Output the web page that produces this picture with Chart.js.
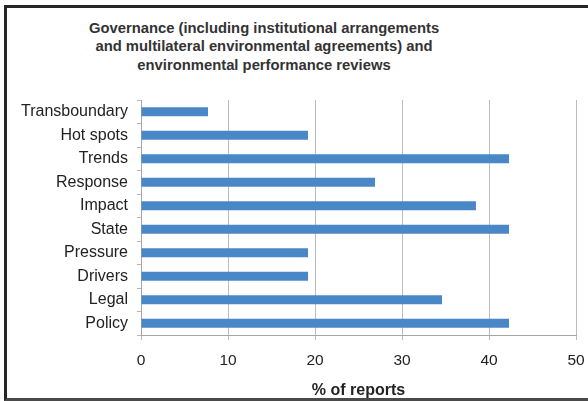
<!DOCTYPE html>
<html>
<head>
<meta charset="utf-8">
<script src="https://cdn.jsdelivr.net/npm/chart.js@4/dist/chart.umd.min.js"></script>
<style>
  html, body { margin: 0; padding: 0; background: #fff; overflow: hidden; }
  #frame {
    position: absolute; left: 4px; top: 5px; width: 620px; height: 390px;
    border-left: 3px solid #262626; border-top: 3px solid #262626; border-bottom: 3px solid #4a4a4a;
    background: #fff;
  }
  #title {
    position: absolute; left: 14px; top: 19px; width: 500px; text-align: center;
    font: bold 14.8px "Liberation Sans", Arial, sans-serif; line-height: 18.3px; color: #333;
  }
  #wrap { position: absolute; left: 0; top: 0; width: 588px; height: 401px; }
</style>
</head>
<body>
<div id="frame"></div>
<div id="title">Governance (including institutional arrangements<br>and multilateral environmental agreements) and<br>environmental performance reviews</div>
<div id="wrap"><canvas id="myChart"></canvas></div>
<script>
const categories = [
  'Transboundary',
  'Hot spots',
  'Trends',
  'Response',
  'Impact',
  'State',
  'Pressure',
  'Drivers',
  'Legal',
  'Policy'
];

const reportShare = [7.7, 19.2, 42.3, 26.9, 38.5, 42.3, 19.2, 19.2, 34.6, 42.3];

const xTicks = [0, 10, 20, 30, 40, 50];

const family = '"Liberation Sans", Arial, sans-serif';

const data = {
  labels: categories,
  datasets: [{
    label: '% of reports',
    backgroundColor: '#4a87c7',
    data: reportShare,
    categoryPercentage: 1,
    barPercentage: 0.38
  }]
};

const config = {
  type: 'bar',
  data: data,
  options: {
    indexAxis: 'y',
    responsive: false,
    animation: false,
    layout: { padding: { top: 100, right: 12, left: 0, bottom: 0 } },
    plugins: {
      legend: { display: false },
      tooltip: { enabled: false }
    },
    scales: {
      x: {
        min: xTicks[0],
        max: xTicks[xTicks.length - 1],
        afterBuildTicks: (axis) => { axis.ticks = xTicks.map(v => ({ value: v })); },
        afterFit: (axis) => {
          axis.height = 66;
          // let the "50" label hang past the plot edge instead of shrinking it
          axis.paddingLeft = 0;
          axis.paddingRight = 0;
        },
        grid: { color: '#bdbdbd', tickLength: 5 },
        border: { color: '#a6a6a6' },
        ticks: { font: { family: family, size: 15.5 }, color: '#222', padding: 11 },
        title: {
          display: true,
          text: '% of reports',
          font: { family: family, size: 16, weight: 'bold' },
          color: '#222',
          padding: { top: 0, bottom: 1 }
        }
      },
      y: {
        afterFit: (axis) => { axis.width = 141; },
        grid: { drawOnChartArea: false, color: '#c4b4a8', tickLength: 4 },
        border: { color: '#a6a6a6' },
        ticks: { font: { family: family, size: 16 }, color: '#222', padding: 9 }
      }
    }
  }
};

const canvas = document.getElementById('myChart');
canvas.width = 588;
canvas.height = 401;
const myChart = new Chart(canvas, config);
</script>
</body>
</html>
